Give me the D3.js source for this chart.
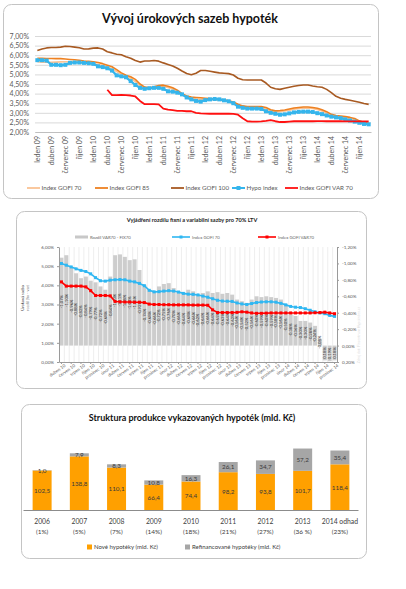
<!DOCTYPE html>
<html>
<head>
<meta charset="utf-8">
<script src="https://cdn.jsdelivr.net/npm/d3@7"></script>
<style>
body { margin: 0; background: #fff; }
</style>
</head>
<body>
<svg id="chart" width="406" height="589"></svg>
<script>
// ---- data ----
var monthNames = ["leden", "únor", "březen", "duben", "květen", "červen", "červenec", "srpen", "září", "říjen", "listopad", "prosinec"];
var yearTags = ["09", "10", "11", "12", "13", "14"];
var months1 = yearTags.flatMap(function(y) { return monthNames.map(function(m) { return m + " " + y; }); });
var months2 = months1.slice(15); // duben 10 .. prosinec 14

var gofi70 = [5.66, 5.64, 5.63, 5.63, 5.64, 5.65, 5.66, 5.66, 5.65, 5.64, 5.60, 5.58,
  5.56, 5.52, 5.46, 5.38, 5.30, 5.15, 5.00, 4.90, 4.80, 4.62, 4.42, 4.28,
  4.25, 4.30, 4.36, 4.38, 4.32, 4.24, 4.12, 3.95, 3.82, 3.75, 3.72, 3.70,
  3.70, 3.70, 3.68, 3.66, 3.63, 3.58, 3.50, 3.38, 3.30, 3.27, 3.26, 3.26,
  3.25, 3.20, 3.09, 3.04, 3.06, 3.09, 3.14, 3.19, 3.22, 3.24, 3.24, 3.22,
  3.17, 3.09, 2.99, 2.86, 2.80, 2.76, 2.72, 2.68, 2.62, 2.52, 2.46, 2.42];
var gofi85 = [5.84, 5.84, 5.83, 5.83, 5.82, 5.82, 5.80, 5.78, 5.76, 5.74, 5.70, 5.68,
  5.66, 5.62, 5.56, 5.48, 5.40, 5.25, 5.08, 4.96, 4.88, 4.74, 4.50, 4.34,
  4.30, 4.36, 4.42, 4.44, 4.38, 4.30, 4.18, 4.00, 3.88, 3.82, 3.80, 3.78,
  3.76, 3.74, 3.72, 3.70, 3.68, 3.63, 3.56, 3.45, 3.36, 3.33, 3.32, 3.32,
  3.32, 3.28, 3.16, 3.10, 3.12, 3.15, 3.20, 3.25, 3.28, 3.30, 3.30, 3.28,
  3.24, 3.16, 3.06, 2.92, 2.86, 2.83, 2.80, 2.76, 2.70, 2.58, 2.50, 2.45];
var gofi100 = [6.24, 6.32, 6.38, 6.40, 6.40, 6.42, 6.47, 6.45, 6.42, 6.39, 6.32, 6.33,
  6.37, 6.38, 6.32, 6.18, 6.12, 6.05, 6.02, 5.92, 5.84, 5.72, 5.64, 5.70,
  5.70, 5.72, 5.69, 5.60, 5.52, 5.44, 5.32, 5.18, 5.05, 4.98, 5.06, 5.20,
  5.20, 5.16, 5.12, 5.08, 5.06, 5.04, 4.97, 4.80, 4.72, 4.71, 4.71, 4.71,
  4.71, 4.55, 4.33, 4.25, 4.22, 4.28, 4.33, 4.38, 4.42, 4.45, 4.45, 4.40,
  4.36, 4.33, 4.22, 4.05, 3.86, 3.76, 3.70, 3.65, 3.60, 3.55, 3.48, 3.44];
var hypoIndex = [5.74, 5.74, 5.72, 5.50, 5.50, 5.48, 5.50, 5.60, 5.62, 5.62, 5.60, 5.58,
  5.55, 5.42, 5.38, 5.32, 5.20, 4.95, 4.90, 4.85, 4.65, 4.45, 4.30, 4.25,
  4.28, 4.30, 4.30, 4.25, 4.12, 4.10, 4.05, 3.96, 3.80, 3.70, 3.62, 3.58,
  3.66, 3.70, 3.72, 3.70, 3.65, 3.60, 3.50, 3.32, 3.26, 3.22, 3.22, 3.22,
  3.20, 3.08, 3.00, 2.95, 2.90, 2.92, 2.97, 3.02, 3.05, 3.06, 3.06, 3.04,
  2.98, 2.93, 2.86, 2.80, 2.76, 2.72, 2.66, 2.60, 2.54, 2.48, 2.42, 2.40];
var gofiVar70 = [null, null, null, null, null, null, null, null, null, null, null, null,
  null, null, null, 4.20, 3.92, 3.92, 3.93, 3.92, 3.90, 3.85, 3.62, 3.45,
  3.45, 3.45, 3.44, 3.22, 3.16, 3.14, 3.10, 3.10, 3.08, 3.08, 3.00, 2.97,
  2.96, 2.95, 2.95, 2.95, 2.95, 2.95, 2.94, 2.90, 2.72, 2.56, 2.54, 2.54,
  2.55, 2.58, 2.62, 2.56, 2.52, 2.52, 2.54, 2.56, 2.56, 2.56, 2.56, 2.56,
  2.57, 2.57, 2.56, 2.56, 2.56, 2.56, 2.55, 2.55, 2.55, 2.55, 2.55, 2.55];

// chart 2 (duben 10 - prosinec 14)
var rozdil = [-1.07, -1.10, -0.96, -0.88, -0.82, -0.84, -0.79, -0.77, -0.72, -0.68,
  -0.84, -1.10, -1.11, -1.08, -1.04, -1.05, -0.92, -0.74, -0.68, -0.66,
  -0.72, -0.75, -0.76, -0.70, -0.66, -0.64, -0.68, -0.66, -0.62, -0.64,
  -0.66, -0.64, -0.65, -0.63, -0.64, -0.62, -0.56, -0.54, -0.52, -0.56,
  -0.60, -0.59, -0.60, -0.59, -0.58, -0.56, -0.50, -0.38, -0.36, -0.30,
  -0.30, -0.28, -0.24, -0.08, 0.18, 0.19, 0.18];
var gofi70b = [5.14, 5.05, 4.96, 4.86, 4.78, 4.72, 4.60, 4.40, 4.24, 4.22,
  4.27, 4.29, 4.30, 4.29, 4.22, 4.18, 4.10, 3.98, 3.74, 3.66,
  3.67, 3.70, 3.72, 3.70, 3.65, 3.58, 3.54, 3.53, 3.50, 3.44,
  3.38, 3.30, 3.22, 3.18, 3.17, 3.16, 3.08, 3.03, 3.00, 3.05,
  3.10, 3.13, 3.14, 3.14, 3.12, 3.06, 2.98, 2.90, 2.86, 2.84,
  2.78, 2.70, 2.62, 2.56, 2.52, 2.43, 2.38];
var gofiVar70b = [4.18, 3.96, 3.96, 3.96, 3.96, 3.92, 3.72, 3.47, 3.47, 3.47,
  3.45, 3.16, 3.14, 3.13, 3.13, 3.12, 3.12, 3.10, 3.02, 3.00,
  3.00, 2.99, 2.99, 2.98, 2.98, 2.98, 2.98, 2.97, 2.97, 2.97,
  2.96, 2.72, 2.58, 2.58, 2.58, 2.58, 2.59, 2.62, 2.60, 2.56,
  2.54, 2.54, 2.55, 2.56, 2.56, 2.56, 2.56, 2.56, 2.56, 2.56,
  2.56, 2.56, 2.57, 2.58, 2.60, 2.56, 2.52];
var leftTicks2 = [0, 1, 2, 3, 4, 5, 6];
var rightTicks2 = [-1.2, -1.0, -0.8, -0.6, -0.4, -0.2, 0, 0.2];

// chart 3
var years3 = ["2006", "2007", "2008", "2009", "2010", "2011", "2012", "2013", "2014 odhad"];
var shares3 = ["(1%)", "(5%)", "(7%)", "(14%)", "(18%)", "(21%)", "(27%)", "(36 %)", "(23%)"];
var noveHypoteky = [102.5, 138.8, 110.1, 66.4, 74.4, 98.2, 93.8, 101.7, 118.4];
var refinancovane = [1.0, 7.9, 8.3, 10.8, 16.3, 26.1, 34.7, 57.2, 35.4];

// ---- helpers ----
var FONT = "Lato, 'Open Sans', sans-serif";
var fmtPct = function(d) { return (d < 0 ? "-" : "") + Math.abs(d).toFixed(2).replace(".", ",") + "%"; };
var fmtNum = function(d) { return d.toFixed(1).replace(".", ","); };
var svg = d3.select("#chart").attr("font-family", FONT);

function frame(x, y, w, h) {
  svg.append("rect").attr("x", x + 0.5).attr("y", y + 0.5).attr("width", w).attr("height", h)
    .attr("rx", 8).attr("fill", "#fff").attr("stroke", "#c4c4c4");
}
function styleAxis(g, size, col) {
  g.attr("font-family", FONT);
  g.selectAll("text").attr("font-size", size).attr("fill", col);
}

// =============== chart 1 ===============
frame(3, 4, 375, 194);
svg.append("text").attr("x", 190).attr("y", 23).attr("text-anchor", "middle")
  .attr("font-size", 12.5).attr("font-weight", "bold").attr("fill", "#111")
  .text("Vývoj úrokových sazeb hypoték");

var x1 = d3.scaleBand().domain(months1).range([35, 371]);
var y1 = d3.scaleLinear().domain([2, 7]).range([132, 36]);

var g1y = svg.append("g").attr("transform", "translate(35,0)")
  .call(d3.axisLeft(y1).tickValues(d3.range(2, 7.01, 0.5)).tickSize(-336).tickPadding(6).tickFormat(fmtPct));
g1y.select(".domain").remove();
g1y.selectAll("line").attr("stroke", "#d9d9d9");
styleAxis(g1y, 7, "#595959");

var g1x = svg.append("g").attr("transform", "translate(0,132)")
  .call(d3.axisBottom(x1).tickValues(months1.filter(function(d, i) { return i % 3 === 0; })).tickSize(0).tickSizeOuter(0));
g1x.select(".domain").attr("stroke", "#bfbfbf");
styleAxis(g1x, 7, "#595959");
g1x.selectAll("text").attr("transform", "rotate(-90)").attr("text-anchor", "end")
  .attr("x", -4).attr("y", 0).attr("dy", "0.35em");

var line1 = d3.line().defined(function(d) { return d != null; })
  .x(function(d, i) { return x1(months1[i]) + x1.bandwidth() / 2; })
  .y(function(d) { return y1(d); });

var series1 = [
  { name: "Index GOFI 70", data: gofi70, color: "#fac293", width: 1.6 },
  { name: "Index GOFI 85", data: gofi85, color: "#ee8121", width: 1.6 },
  { name: "Index GOFI 100", data: gofi100, color: "#a85a22", width: 1.6 },
  { name: "Hypo index", data: hypoIndex, color: "#35b5ec", width: 2.2, marker: true },
  { name: "Index GOFI VAR 70", data: gofiVar70, color: "#ff1010", width: 1.8 }
];
series1.forEach(function(s) {
  svg.append("path").attr("d", line1(s.data)).attr("fill", "none")
    .attr("stroke", s.color).attr("stroke-width", s.width).attr("stroke-linejoin", "round");
  if (s.marker) {
    svg.append("g").selectAll("rect").data(s.data).join("rect")
      .attr("x", function(d, i) { return x1(months1[i]) + x1.bandwidth() / 2 - 2; })
      .attr("y", function(d) { return y1(d) - 2; })
      .attr("width", 4).attr("height", 4).attr("fill", s.color);
  }
});

var legend1X = [27, 95, 171, 232, 285];
series1.forEach(function(s, i) {
  var lx = legend1X[i], ly = 188;
  svg.append("line").attr("x1", lx).attr("x2", lx + 13).attr("y1", ly).attr("y2", ly)
    .attr("stroke", s.color).attr("stroke-width", s.marker ? 2 : 1.8);
  if (s.marker) svg.append("rect").attr("x", lx + 4.5).attr("y", ly - 2).attr("width", 4).attr("height", 4).attr("fill", s.color);
  svg.append("text").attr("x", lx + 14.5).attr("y", ly + 2.2).attr("font-size", 6.2).attr("fill", "#595959").text(s.name);
});

// =============== chart 2 ===============
frame(16, 211, 350, 177);
svg.append("text").attr("x", 192).attr("y", 222).attr("text-anchor", "middle")
  .attr("font-size", 5.6).attr("font-weight", "bold").attr("fill", "#222")
  .text("Vyjádření rozdílu fixní a variabilní sazby pro 70% LTV");

var x2 = d3.scaleBand().domain(months2).range([59, 337]).paddingInner(0.18).paddingOuter(0.09);
var y2L = d3.scaleLinear().domain([0, 6]).range([362, 247]);
var y2R = d3.scaleLinear().domain([0.2, -1.2]).range([362, 247]);
var step2 = x2.step();

// vertical grid between months
svg.append("g").selectAll("line").data(months2).join("line")
  .attr("x1", function(d) { return x2(d) - step2 * 0.09 + 0.5; })
  .attr("x2", function(d) { return x2(d) - step2 * 0.09 + 0.5; })
  .attr("y1", 247).attr("y2", 362).attr("stroke", "#e3e3e3").attr("stroke-width", 0.6);

svg.append("g").selectAll("rect").data(rozdil).join("rect")
  .attr("x", function(d, i) { return x2(months2[i]); })
  .attr("width", x2.bandwidth())
  .attr("y", function(d) { return Math.min(y2R(d), y2R(0)); })
  .attr("height", function(d) { return Math.abs(y2R(d) - y2R(0)); })
  .attr("fill", "#cdcdcd");

svg.append("g").selectAll("text").data(rozdil).join("text")
  .attr("transform", function(d, i) {
    var cx = x2(months2[i]) + x2.bandwidth() / 2;
    var cy = (y2R(d) + y2R(0)) / 2;
    return "translate(" + (cx + 1.4) + "," + cy + ") rotate(-90)";
  })
  .attr("text-anchor", "middle").attr("font-size", 4.2).attr("fill", "#333")
  .text(function(d) { return fmtPct(d); });

var g2L = svg.append("g").attr("transform", "translate(59,0)")
  .call(d3.axisLeft(y2L).tickValues(leftTicks2).tickSize(2).tickSizeOuter(0).tickPadding(3).tickFormat(fmtPct));
g2L.selectAll("path,line").attr("stroke", "#9a9a9a");
styleAxis(g2L, 4.6, "#595959");

var g2R = svg.append("g").attr("transform", "translate(337,0)")
  .call(d3.axisRight(y2R).tickValues(rightTicks2).tickSize(2).tickSizeOuter(0).tickPadding(3).tickFormat(fmtPct));
g2R.selectAll("path,line").attr("stroke", "#9a9a9a");
styleAxis(g2R, 4.6, "#595959");

var g2x = svg.append("g").attr("transform", "translate(0,362)")
  .call(d3.axisBottom(x2).tickValues(months2.filter(function(d, i) { return i % 2 === 0; })).tickSize(2).tickSizeOuter(0));
g2x.selectAll("path,line").attr("stroke", "#9a9a9a");
styleAxis(g2x, 4.4, "#595959");
g2x.selectAll("text").attr("text-anchor", "end").attr("y", 3).attr("x", 1).attr("dy", "0.7em")
  .attr("transform", "rotate(-35)");

var line2 = d3.line()
  .x(function(d, i) { return x2(months2[i]) + x2.bandwidth() / 2; })
  .y(function(d) { return y2L(d); });
var series2 = [
  { name: "Index GOFI 70", data: gofi70b, color: "#2fb7f2" },
  { name: "Index GOFI VAR70", data: gofiVar70b, color: "#ff0000" }
];
series2.forEach(function(s) {
  svg.append("path").attr("d", line2(s.data)).attr("fill", "none")
    .attr("stroke", s.color).attr("stroke-width", 1.6);
  svg.append("g").selectAll("rect").data(s.data).join("rect")
    .attr("x", function(d, i) { return x2(months2[i]) + x2.bandwidth() / 2 - 1.5; })
    .attr("y", function(d) { return y2L(d) - 1.5; })
    .attr("width", 3).attr("height", 3).attr("fill", s.color);
});

// legend chart 2
svg.append("rect").attr("x", 75).attr("y", 235.5).attr("width", 13).attr("height", 3).attr("fill", "#c8c8c8");
svg.append("text").attr("x", 90).attr("y", 238.5).attr("font-size", 4.3).attr("fill", "#666").text("Rozdíl VAR70 - FIX70");
[[172, series2[0]], [258, series2[1]]].forEach(function(p) {
  var lx = p[0], s = p[1];
  svg.append("line").attr("x1", lx).attr("x2", lx + 18).attr("y1", 237).attr("y2", 237)
    .attr("stroke", s.color).attr("stroke-width", 1.6);
  svg.append("rect").attr("x", lx + 7.5).attr("y", 235.5).attr("width", 3).attr("height", 3).attr("fill", s.color);
  svg.append("text").attr("x", lx + 20).attr("y", 238.5).attr("font-size", 4.3).attr("fill", "#666").text(s.name);
});

// axis titles / source
svg.append("text").attr("transform", "translate(24,298) rotate(-90)").attr("text-anchor", "middle")
  .attr("font-size", 4).attr("fill", "#333").text("Úroková sazba");
svg.append("text").attr("transform", "translate(29,298) rotate(-90)").attr("text-anchor", "middle")
  .attr("font-size", 4).attr("fill", "#888").text("rozdíl (fix - var)");
svg.append("text").attr("transform", "translate(360,335) rotate(-90)").attr("text-anchor", "middle")
  .attr("font-size", 3.6).attr("fill", "#dcdcdc").text("Zdroj dat: Fincentrum Hypoindex.cz");

// =============== chart 3 ===============
frame(21, 404, 345, 154);
svg.append("text").attr("x", 192).attr("y", 421).attr("text-anchor", "middle")
  .attr("font-size", 9).attr("font-weight", "bold").attr("fill", "#111")
  .text("Struktura produkce vykazovaných hypoték  (mld. Kč)");

var x3 = d3.scaleBand().domain(years3).range([23.5, 358.5]).paddingInner(0.49).paddingOuter(0.245);
var y3 = d3.scaleLinear().domain([0, 200]).range([510.5, 432.5]);

var stack3 = years3.map(function(y, i) {
  return [
    { key: "nove", y0: 0, y1: noveHypoteky[i], v: noveHypoteky[i], color: "#ffa000" },
    { key: "refi", y0: noveHypoteky[i], y1: noveHypoteky[i] + refinancovane[i], v: refinancovane[i], color: "#a6a6a6" }
  ];
});
stack3.forEach(function(segs, i) {
  var bx = x3(years3[i]);
  segs.forEach(function(s) {
    svg.append("rect").attr("x", bx).attr("width", x3.bandwidth())
      .attr("y", y3(s.y1)).attr("height", y3(s.y0) - y3(s.y1)).attr("fill", s.color);
  });
  segs.forEach(function(s) {
    svg.append("text").attr("x", bx + x3.bandwidth() / 2).attr("y", (y3(s.y0) + y3(s.y1)) / 2 + 2.2)
      .attr("text-anchor", "middle").attr("font-size", 6.3).attr("fill", "#3a3a3a").text(fmtNum(s.v));
  });
});

svg.append("line").attr("x1", 23.5).attr("x2", 358.5).attr("y1", 510.5).attr("y2", 510.5)
  .attr("stroke", "#8c8c8c").attr("stroke-width", 1);

var g3x = svg.append("g").attr("transform", "translate(0,510.5)")
  .call(d3.axisBottom(x3).tickSize(0).tickPadding(9));
g3x.select(".domain").remove();
styleAxis(g3x, 6.8, "#404040");
g3x.selectAll(".tick").append("text").attr("y", 23.5).attr("text-anchor", "middle")
  .attr("font-size", 6.5).attr("fill", "#404040")
  .text(function(d, i) { return shares3[i]; });

svg.append("rect").attr("x", 87).attr("y", 544.5).attr("width", 5).attr("height", 5).attr("fill", "#ffa000");
svg.append("text").attr("x", 94).attr("y", 549.3).attr("font-size", 6).attr("fill", "#404040").text("Nové hypotéky (mld. Kč)");
svg.append("rect").attr("x", 185).attr("y", 544.5).attr("width", 5).attr("height", 5).attr("fill", "#a6a6a6");
svg.append("text").attr("x", 192).attr("y", 549.3).attr("font-size", 6).attr("fill", "#404040").text("Refinancované hypotéky (mld. Kč)");
</script>
</body>
</html>
